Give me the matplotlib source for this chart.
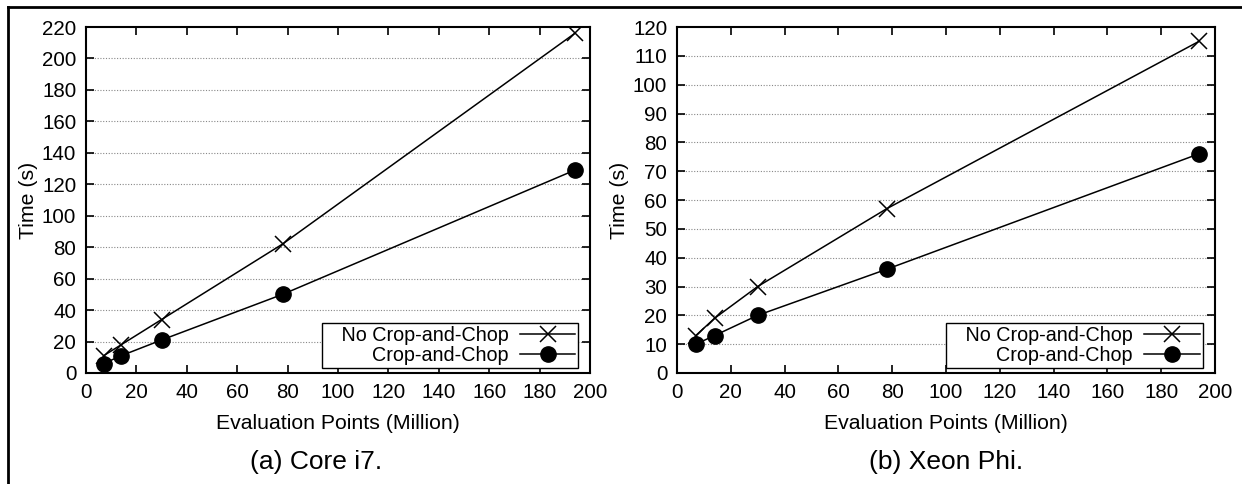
import matplotlib.pyplot as plt
from matplotlib.lines import Line2D

plt.rcParams['font.family'] = ['Liberation Sans', 'DejaVu Sans']

# data
x_pts = [7, 14, 30, 78, 194]
i7_nocrop = [11, 18, 34, 82, 216]
i7_crop = [6, 11, 21, 50, 129]
phi_nocrop = [13, 19, 30, 57, 115]
phi_crop = [10, 13, 20, 36, 76]

xticks = list(range(0, 201, 20))
i7_yticks = list(range(0, 221, 20))
phi_yticks = list(range(0, 121, 10))
captions = ["(a) Core i7.", "(b) Xeon Phi."]

fig = plt.figure(figsize=(12.42, 4.84), dpi=100)
W, H = 1242, 484

def px_axes(x0, x1, y0, y1):
    return fig.add_axes([x0 / W, 1 - y1 / H, (x1 - x0) / W, (y1 - y0) / H])

ax1 = px_axes(86, 590, 27, 373)
ax2 = px_axes(677, 1215, 27, 373)

panels = [(ax1, i7_nocrop, i7_crop, i7_yticks, 220),
          (ax2, phi_nocrop, phi_crop, phi_yticks, 120)]

for ax, nc, cr, yt, ymax in panels:
    ax.plot(x_pts, nc, color='black', lw=1.1, marker='x', ms=12, mew=1.1,
            label='   No Crop-and-Chop')
    ax.plot(x_pts, cr, color='black', lw=1.1, marker='o', ms=11,
            label='Crop-and-Chop')
    ax.set_xlim(0, 200)
    ax.set_ylim(0, ymax)
    ax.set_xticks(xticks)
    ax.set_yticks(yt)
    for y in yt[1:-1]:
        ax.axhline(y, color='#888888', lw=0.8, ls=(0, (1, 1.5)), zorder=0)
    ax.tick_params(direction='in', top=True, right=True, length=6, width=1.2,
                   labelsize=14.8, pad=7)
    for s in ax.spines.values():
        s.set_linewidth(1.5)
    ax.set_xlabel('Evaluation Points (Million)', fontsize=15.3, labelpad=8.5)
    ax.set_ylabel('Time (s)', fontsize=15.3, labelpad=3)
    leg = ax.legend(loc='lower right', bbox_to_anchor=(0.977, 0.014),
                    borderaxespad=0, markerfirst=False, fancybox=False,
                    edgecolor='black', framealpha=1, fontsize=14.2,
                    handlelength=2.8, labelspacing=0.08, borderpad=0.15,
                    handletextpad=0.6)
    leg.get_frame().set_linewidth(1.0)

fig.text(316 / W, 1 - 462 / H, captions[0], fontsize=19, ha='center', va='center')
fig.text(946 / W, 1 - 462 / H, captions[1], fontsize=19, ha='center', va='center')

# border of the crop
fig.add_artist(Line2D([8 / W, 1], [1 - 7 / H, 1 - 7 / H], color='black', lw=2))
fig.add_artist(Line2D([8 / W, 8 / W], [0, 1 - 7 / H], color='black', lw=2))

fig.savefig('out.png', dpi=100)
